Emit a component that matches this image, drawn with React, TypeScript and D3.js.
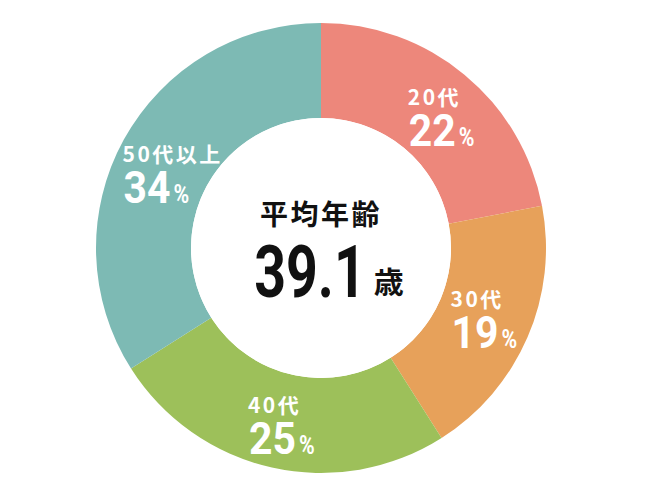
import React, { useRef, useEffect } from 'react';
import * as d3 from 'd3';

const categories = ['20代', '30代', '40代', '50代以上'];
const shares = [22, 19, 25, 34];
const sliceColors = ['#ED877B', '#E7A15A', '#9DC05A', '#7DBAB4'];
const centerTitle = '平均年齢';
const averageAge = '39.1';
const ageUnit = '歳';

const WIDTH = 650;
const HEIGHT = 500;

// small hand nudges so the label blocks sit where the original has them
const labelNudge: [number, number][] = [[7, 3], [0, -2], [-1, 1], [6, 9]];

const App: React.FC = () => {
  const svgRef = useRef<SVGSVGElement>(null);

  useEffect(() => {
    if (!svgRef.current) return;
    const svg = d3.select(svgRef.current);
    svg.selectAll('*').remove();

    const cx = 321;
    const cy = 248;
    const outerR = 225;
    const innerR = 130;

    const g = svg.append('g').attr('transform', `translate(${cx},${cy})`);

    const pie = d3.pie<number>().sort(null).value(d => d);
    const arcs = pie(shares);
    const arc = d3.arc<d3.PieArcDatum<number>>().innerRadius(innerR).outerRadius(outerR);

    g.selectAll('path.slice')
      .data(arcs)
      .enter()
      .append('path')
      .attr('class', 'slice')
      .attr('d', arc)
      .attr('fill', (_, i) => sliceColors[i]);

    // white hole
    g.append('circle').attr('r', innerR).attr('fill', '#fff');

    const sans = '"Noto Sans CJK JP", "Noto Sans", sans-serif';
    const digits = 'Roboto, "Noto Sans", sans-serif';

    // slice labels
    arcs.forEach((a, i) => {
      const [lx, ly] = arc.centroid(a);
      const lg = g.append('g');

      const top = lg.append('text')
        .attr('x', 0)
        .attr('y', -9)
        .attr('font-family', sans)
        .attr('font-weight', 700)
        .attr('font-size', 21)
        .attr('letter-spacing', 2.5)
        .attr('fill', '#fff')
        .text(categories[i]);

      const numScale = 0.93;
      const num = lg.append('text')
        .attr('transform', `translate(1,32) scale(${numScale},1)`)
        .attr('font-family', digits)
        .attr('font-weight', 700)
        .attr('font-size', 44)
        .attr('fill', '#fff')
        .text(String(shares[i]));

      const numW = (num.node() as SVGTextElement).getComputedTextLength() * numScale;
      const pct = lg.append('text')
        .attr('transform', `translate(${1 + numW + 3},32) scale(0.85,1)`)
        .attr('font-family', digits)
        .attr('font-weight', 700)
        .attr('font-size', 25)
        .attr('fill', '#fff')
        .text('%');
      const pctW = (pct.node() as SVGTextElement).getComputedTextLength() * 0.85;

      const topW = (top.node() as SVGTextElement).getComputedTextLength() - 2.5;
      const blockW = Math.max(topW, 1 + numW + 3 + pctW);
      const [nx, ny] = labelNudge[i];
      lg.attr('transform', `translate(${lx - blockW / 2 + nx},${ly + ny})`);
    });

    // center text
    g.append('text')
      .attr('x', 0)
      .attr('y', -23)
      .attr('text-anchor', 'middle')
      .attr('font-family', sans)
      .attr('font-weight', 700)
      .attr('font-size', 28)
      .attr('letter-spacing', 2.5)
      .attr('fill', '#111')
      .text(centerTitle);

    const bigScale = 0.77;
    const big = g.append('text')
      .attr('font-family', digits)
      .attr('font-weight', 700)
      .attr('font-size', 72)
      .attr('fill', '#111')
      .text(averageAge);
    const bigW = (big.node() as SVGTextElement).getComputedTextLength() * bigScale;

    const unit = g.append('text')
      .attr('font-family', sans)
      .attr('font-weight', 700)
      .attr('font-size', 30)
      .attr('fill', '#111')
      .text(ageUnit);
    const unitW = (unit.node() as SVGTextElement).getComputedTextLength();

    const gap = 8;
    const totalW = bigW + gap + unitW;
    const startX = -totalW / 2 + 8;
    big.attr('transform', `translate(${startX},49) scale(${bigScale},1)`);
    unit.attr('transform', `translate(${startX + bigW + gap},45)`);
  }, []);

  return (
    <svg
      ref={svgRef}
      width={WIDTH}
      height={HEIGHT}
      style={{ position: 'absolute', left: 0, top: 0, background: '#fff' }}
    />
  );
};

export default App;
